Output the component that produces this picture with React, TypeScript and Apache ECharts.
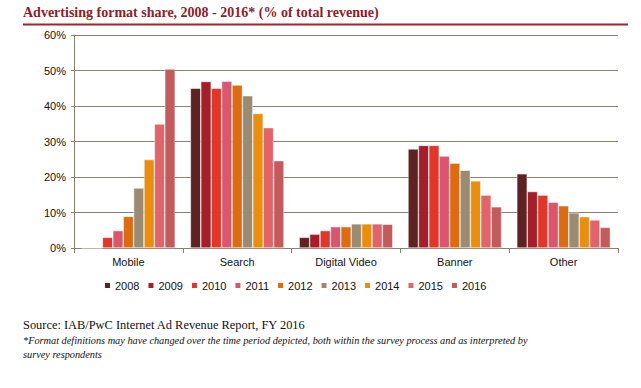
import React, { useEffect, useRef } from "react";
import * as echarts from "echarts";

const categories = ["Mobile", "Search", "Digital Video", "Banner", "Other"];
const years = ["2008", "2009", "2010", "2011", "2012", "2013", "2014", "2015", "2016"];
// values per year, in category order
const v2008 = [0, 45.0, 3.0, 27.9, 20.9];
const v2009 = [0, 46.9, 3.9, 28.9, 15.9];
const v2010 = [3.0, 45.0, 4.9, 28.9, 14.9];
const v2011 = [4.9, 47.0, 6.0, 25.9, 12.9];
const v2012 = [8.9, 45.9, 6.0, 23.9, 11.9];
const v2013 = [16.9, 42.9, 6.8, 21.9, 9.9];
const v2014 = [24.9, 37.9, 6.8, 18.9, 8.8];
const v2015 = [34.9, 33.9, 6.8, 14.9, 7.9];
const v2016 = [50.4, 24.6, 6.7, 11.6, 5.8];
const seriesValues = [v2008, v2009, v2010, v2011, v2012, v2013, v2014, v2015, v2016];
const colors = ["#5e2222", "#a51f2a", "#e1362a", "#d9566e", "#dc6c12", "#9a8b72", "#e98e0e", "#e0646a", "#c35b5c"];
const yTicks = [0, 10, 20, 30, 40, 50, 60];

const titleText = "Advertising format share, 2008 - 2016* (% of total revenue)";
const sourceText = "Source: IAB/PwC Internet Ad Revenue Report, FY 2016";
const noteLine1 = "*Format definitions may have changed over the time period depicted, both within the survey process and as interpreted by";
const noteLine2 = "survey respondents";

export default function App() {
  const ref = useRef<HTMLDivElement>(null);
  useEffect(() => {
    if (!ref.current) return;
    const chart = echarts.init(ref.current, null, { renderer: "svg" });
    const gridLine = "#8c8070";
    chart.setOption({
      animation: false,
      backgroundColor: "#ffffff",
      grid: { left: 74, right: 23, top: 35, bottom: 140 },
      xAxis: {
        type: "category",
        data: categories,
        boundaryGap: true,
        axisLine: { lineStyle: { color: gridLine, width: 1 } },
        axisTick: { show: true, length: 5, lineStyle: { color: gridLine } },
        axisLabel: { color: "#111", fontFamily: "Liberation Sans", fontSize: 11, margin: 8 },
      },
      yAxis: {
        type: "value",
        min: yTicks[0],
        max: yTicks[yTicks.length - 1],
        interval: 10,
        axisLine: { show: true, lineStyle: { color: gridLine } },
        axisTick: { show: true, length: 3, lineStyle: { color: gridLine } },
        axisLabel: { color: "#111", fontFamily: "Liberation Sans", fontSize: 11, margin: 8, formatter: "{value}%" },
        splitLine: { show: true, lineStyle: { color: gridLine, width: 1 } },
      },
      legend: {
        left: 98,
        top: 275,
        itemWidth: 7,
        itemHeight: 7,
        itemGap: 7,
        icon: "rect",
        textStyle: { color: "#111", fontFamily: "Liberation Sans", fontSize: 11, padding: [0, 0, 0, -1] },
        data: years,
      },
      series: years.map((y, i) => ({
        name: y,
        type: "bar",
        data: seriesValues[i],
        barGap: "0%",
        barCategoryGap: "14%",
        itemStyle: { color: colors[i], borderColor: "#ffffff", borderWidth: 0.5 },
      })),
      graphic: [
        {
          type: "text",
          left: 23,
          top: 5,
          style: { text: titleText, fill: "#8e1c2a", font: "bold 14px 'Liberation Serif'" },
        },
        {
          type: "line",
          shape: { x1: 23, y1: 24.5, x2: 628, y2: 24.5 },
          style: { stroke: "#a3222c", lineWidth: 2 },
        },
        {
          type: "text",
          left: 23,
          top: 319,
          style: { text: sourceText, fill: "#111", font: "12.4px 'Liberation Serif'" },
        },
        {
          type: "text",
          left: 23,
          top: 335,
          style: { text: noteLine1, fill: "#111", font: "italic 10.3px 'Liberation Serif'" },
        },
        {
          type: "text",
          left: 23,
          top: 349,
          style: { text: noteLine2, fill: "#111", font: "italic 10.3px 'Liberation Serif'" },
        },
      ],
    });
    return () => chart.dispose();
  }, []);
  return <div ref={ref} style={{ width: 641, height: 388, position: "absolute", left: 0, top: 0 }} />;
}
